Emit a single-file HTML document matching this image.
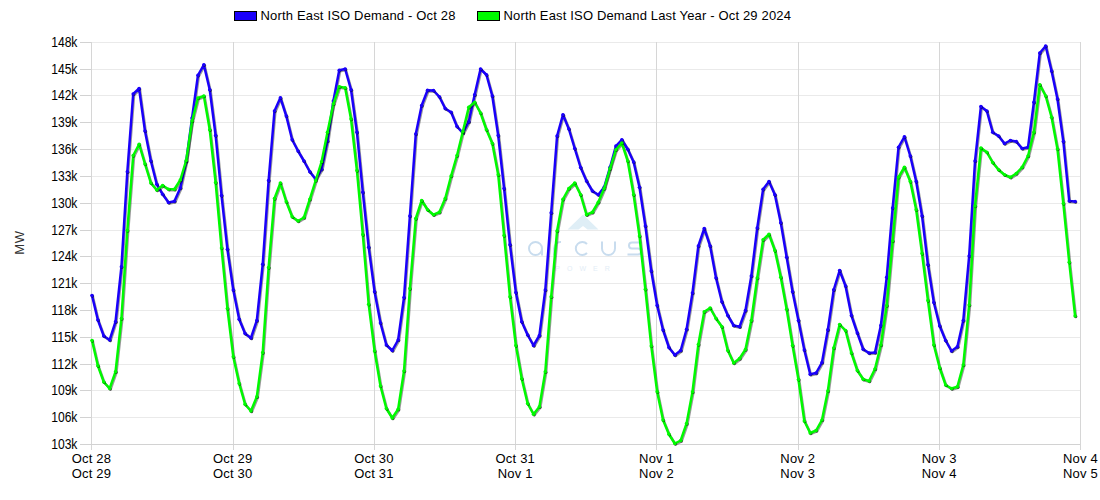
<!DOCTYPE html><html><head><meta charset="utf-8"><style>html,body{margin:0;padding:0;background:#fff;width:1100px;height:500px;overflow:hidden}svg{display:block}text{font-family:"Liberation Sans",sans-serif;fill:#000}</style></head><body>
<svg width="1100" height="500" viewBox="0 0 1100 500">
<path d="M91 42.5H1080 M91 69.5H1080 M91 95.5H1080 M91 122.5H1080 M91 149.5H1080 M91 176.5H1080 M91 203.5H1080 M91 230.5H1080 M91 256.5H1080 M91 283.5H1080 M91 310.5H1080 M91 337.5H1080 M91 364.5H1080 M91 390.5H1080 M91 417.5H1080" stroke="#eaeaea" stroke-width="1" fill="none" shape-rendering="crispEdges"/>
<path d="M91.5 42V449.5 M233.5 42V449.5 M374.5 42V449.5 M515.5 42V449.5 M656.5 42V449.5 M798.5 42V449.5 M939.5 42V449.5 M1080.5 42V449.5" stroke="#d6d6d6" stroke-width="1" fill="none" shape-rendering="crispEdges"/>
<path d="M80 42.5H91 M80 69.5H91 M80 95.5H91 M80 122.5H91 M80 149.5H91 M80 176.5H91 M80 203.5H91 M80 230.5H91 M80 256.5H91 M80 283.5H91 M80 310.5H91 M80 337.5H91 M80 364.5H91 M80 390.5H91 M80 417.5H91 M80 444.5H91 M91 444.5H1080" stroke="#d2d2d2" stroke-width="1" fill="none" shape-rendering="crispEdges"/>
<g opacity="1">
<path d="M583 214.5L598.5 229.5H587.5L583 226L578.5 229.5H567.5Z" fill="#dfeef6"/>
<g fill="none" stroke="#c8dcee" stroke-width="2">
<circle cx="535.5" cy="248.5" r="6.5"/><path d="M542 248.5V255.5"/>
<path d="M554 255.5V248.5A6.5 6.5 0 0 1 561 242"/>
<path d="M587 244A6.5 6.5 0 1 0 587 253"/>
<path d="M602 241.5V248.5A6.5 6.5 0 0 0 615 248.5V241.5"/>
<path d="M642 242.5H632A3 3 0 0 0 632 248.5H638A3 3 0 0 1 638 254.5H627.5"/>
</g>
<text x="586" y="271" text-anchor="middle" style="font-size:7px;letter-spacing:7px;fill:#e3edf6">POWER</text>
</g>
<polyline transform="translate(0.9 1.0)" points="92.00,295.50 97.89,320.00 103.77,336.00 109.66,340.00 115.55,321.75 121.43,266.75 127.32,171.75 133.21,94.00 139.10,88.50 144.98,131.00 150.87,161.00 156.76,184.25 162.64,194.25 168.53,202.50 174.42,201.25 180.30,188.00 186.19,161.50 192.08,118.00 197.96,75.25 203.85,64.75 209.74,89.75 215.62,135.50 221.51,195.50 227.40,249.25 233.29,290.00 239.17,319.25 245.06,333.50 250.95,338.00 256.83,320.50 262.72,264.25 268.61,180.50 274.49,111.00 280.38,97.75 286.27,116.00 292.15,139.75 298.04,151.00 303.93,161.00 309.82,171.75 315.70,179.25 321.59,169.25 327.48,141.00 333.36,101.00 339.25,70.25 345.14,69.00 351.02,89.75 356.91,132.25 362.80,192.25 368.68,247.25 374.57,291.75 380.46,323.00 386.35,345.00 392.23,350.50 398.12,340.00 404.01,297.50 409.89,216.00 415.78,134.00 421.67,105.50 427.55,90.25 433.44,90.50 439.33,96.75 445.21,108.50 451.10,112.25 456.99,126.50 462.88,133.00 468.76,121.75 474.65,94.75 480.54,69.00 486.42,74.75 492.31,96.00 498.20,135.50 504.08,188.50 509.97,244.75 515.86,292.50 521.74,321.75 527.63,335.00 533.52,345.50 539.40,335.50 545.29,290.00 551.18,212.75 557.07,136.00 562.95,114.75 568.84,129.00 574.73,148.50 580.61,167.50 586.50,181.00 592.39,191.00 598.27,194.75 604.16,187.25 610.05,167.25 615.93,146.00 621.82,139.75 627.71,149.25 633.60,162.00 639.48,187.25 645.37,226.00 651.26,271.00 657.14,305.50 663.03,330.00 668.92,347.50 674.80,355.00 680.69,350.50 686.58,329.25 692.46,293.00 698.35,246.00 704.24,228.50 710.12,246.00 716.01,278.00 721.90,301.75 727.79,315.50 733.67,325.50 739.56,326.75 745.45,310.50 751.33,276.00 757.22,228.00 763.11,189.25 768.99,181.50 774.88,194.75 780.77,222.75 786.65,257.25 792.54,291.75 798.43,320.50 804.32,350.00 810.20,374.25 816.09,373.00 821.98,362.50 827.86,329.75 833.75,289.75 839.64,270.50 845.52,286.00 851.41,315.50 857.30,333.00 863.18,349.25 869.07,353.00 874.96,352.50 880.85,325.50 886.73,277.25 892.62,208.00 898.51,147.25 904.39,136.75 910.28,156.00 916.17,181.50 922.05,216.00 927.94,264.75 933.83,302.50 939.71,326.00 945.60,340.50 951.49,351.00 957.38,346.75 963.26,320.50 969.15,256.00 975.04,161.00 980.92,106.50 986.81,111.00 992.70,132.25 998.58,136.00 1004.47,143.50 1010.36,140.50 1016.24,141.50 1022.13,148.50 1028.02,147.25 1033.90,102.25 1039.79,53.00 1045.68,46.00 1051.57,71.00 1057.45,99.00 1063.34,141.50 1069.23,201.00 1075.11,201.50" fill="none" stroke="#000" stroke-opacity="0.4" stroke-width="2.4" stroke-linejoin="round" stroke-linecap="round"/>
<polyline points="92.00,295.50 97.89,320.00 103.77,336.00 109.66,340.00 115.55,321.75 121.43,266.75 127.32,171.75 133.21,94.00 139.10,88.50 144.98,131.00 150.87,161.00 156.76,184.25 162.64,194.25 168.53,202.50 174.42,201.25 180.30,188.00 186.19,161.50 192.08,118.00 197.96,75.25 203.85,64.75 209.74,89.75 215.62,135.50 221.51,195.50 227.40,249.25 233.29,290.00 239.17,319.25 245.06,333.50 250.95,338.00 256.83,320.50 262.72,264.25 268.61,180.50 274.49,111.00 280.38,97.75 286.27,116.00 292.15,139.75 298.04,151.00 303.93,161.00 309.82,171.75 315.70,179.25 321.59,169.25 327.48,141.00 333.36,101.00 339.25,70.25 345.14,69.00 351.02,89.75 356.91,132.25 362.80,192.25 368.68,247.25 374.57,291.75 380.46,323.00 386.35,345.00 392.23,350.50 398.12,340.00 404.01,297.50 409.89,216.00 415.78,134.00 421.67,105.50 427.55,90.25 433.44,90.50 439.33,96.75 445.21,108.50 451.10,112.25 456.99,126.50 462.88,133.00 468.76,121.75 474.65,94.75 480.54,69.00 486.42,74.75 492.31,96.00 498.20,135.50 504.08,188.50 509.97,244.75 515.86,292.50 521.74,321.75 527.63,335.00 533.52,345.50 539.40,335.50 545.29,290.00 551.18,212.75 557.07,136.00 562.95,114.75 568.84,129.00 574.73,148.50 580.61,167.50 586.50,181.00 592.39,191.00 598.27,194.75 604.16,187.25 610.05,167.25 615.93,146.00 621.82,139.75 627.71,149.25 633.60,162.00 639.48,187.25 645.37,226.00 651.26,271.00 657.14,305.50 663.03,330.00 668.92,347.50 674.80,355.00 680.69,350.50 686.58,329.25 692.46,293.00 698.35,246.00 704.24,228.50 710.12,246.00 716.01,278.00 721.90,301.75 727.79,315.50 733.67,325.50 739.56,326.75 745.45,310.50 751.33,276.00 757.22,228.00 763.11,189.25 768.99,181.50 774.88,194.75 780.77,222.75 786.65,257.25 792.54,291.75 798.43,320.50 804.32,350.00 810.20,374.25 816.09,373.00 821.98,362.50 827.86,329.75 833.75,289.75 839.64,270.50 845.52,286.00 851.41,315.50 857.30,333.00 863.18,349.25 869.07,353.00 874.96,352.50 880.85,325.50 886.73,277.25 892.62,208.00 898.51,147.25 904.39,136.75 910.28,156.00 916.17,181.50 922.05,216.00 927.94,264.75 933.83,302.50 939.71,326.00 945.60,340.50 951.49,351.00 957.38,346.75 963.26,320.50 969.15,256.00 975.04,161.00 980.92,106.50 986.81,111.00 992.70,132.25 998.58,136.00 1004.47,143.50 1010.36,140.50 1016.24,141.50 1022.13,148.50 1028.02,147.25 1033.90,102.25 1039.79,53.00 1045.68,46.00 1051.57,71.00 1057.45,99.00 1063.34,141.50 1069.23,201.00 1075.11,201.50" fill="none" stroke="#1a00fa" stroke-width="2.5" stroke-linejoin="round" stroke-linecap="round"/>
<g fill="#000" opacity="0.6"><circle cx="92.60" cy="296.10" r="1.6"/><circle cx="98.49" cy="320.60" r="1.6"/><circle cx="104.37" cy="336.60" r="1.6"/><circle cx="110.26" cy="340.60" r="1.6"/><circle cx="116.15" cy="322.35" r="1.6"/><circle cx="122.03" cy="267.35" r="1.6"/><circle cx="127.92" cy="172.35" r="1.6"/><circle cx="133.81" cy="94.60" r="1.6"/><circle cx="139.70" cy="89.10" r="1.6"/><circle cx="145.58" cy="131.60" r="1.6"/><circle cx="151.47" cy="161.60" r="1.6"/><circle cx="157.36" cy="184.85" r="1.6"/><circle cx="163.24" cy="194.85" r="1.6"/><circle cx="169.13" cy="203.10" r="1.6"/><circle cx="175.02" cy="201.85" r="1.6"/><circle cx="180.90" cy="188.60" r="1.6"/><circle cx="186.79" cy="162.10" r="1.6"/><circle cx="192.68" cy="118.60" r="1.6"/><circle cx="198.56" cy="75.85" r="1.6"/><circle cx="204.45" cy="65.35" r="1.6"/><circle cx="210.34" cy="90.35" r="1.6"/><circle cx="216.22" cy="136.10" r="1.6"/><circle cx="222.11" cy="196.10" r="1.6"/><circle cx="228.00" cy="249.85" r="1.6"/><circle cx="233.89" cy="290.60" r="1.6"/><circle cx="239.77" cy="319.85" r="1.6"/><circle cx="245.66" cy="334.10" r="1.6"/><circle cx="251.55" cy="338.60" r="1.6"/><circle cx="257.43" cy="321.10" r="1.6"/><circle cx="263.32" cy="264.85" r="1.6"/><circle cx="269.21" cy="181.10" r="1.6"/><circle cx="275.09" cy="111.60" r="1.6"/><circle cx="280.98" cy="98.35" r="1.6"/><circle cx="286.87" cy="116.60" r="1.6"/><circle cx="292.75" cy="140.35" r="1.6"/><circle cx="298.64" cy="151.60" r="1.6"/><circle cx="304.53" cy="161.60" r="1.6"/><circle cx="310.42" cy="172.35" r="1.6"/><circle cx="316.30" cy="179.85" r="1.6"/><circle cx="322.19" cy="169.85" r="1.6"/><circle cx="328.08" cy="141.60" r="1.6"/><circle cx="333.96" cy="101.60" r="1.6"/><circle cx="339.85" cy="70.85" r="1.6"/><circle cx="345.74" cy="69.60" r="1.6"/><circle cx="351.62" cy="90.35" r="1.6"/><circle cx="357.51" cy="132.85" r="1.6"/><circle cx="363.40" cy="192.85" r="1.6"/><circle cx="369.28" cy="247.85" r="1.6"/><circle cx="375.17" cy="292.35" r="1.6"/><circle cx="381.06" cy="323.60" r="1.6"/><circle cx="386.95" cy="345.60" r="1.6"/><circle cx="392.83" cy="351.10" r="1.6"/><circle cx="398.72" cy="340.60" r="1.6"/><circle cx="404.61" cy="298.10" r="1.6"/><circle cx="410.49" cy="216.60" r="1.6"/><circle cx="416.38" cy="134.60" r="1.6"/><circle cx="422.27" cy="106.10" r="1.6"/><circle cx="428.15" cy="90.85" r="1.6"/><circle cx="434.04" cy="91.10" r="1.6"/><circle cx="439.93" cy="97.35" r="1.6"/><circle cx="445.81" cy="109.10" r="1.6"/><circle cx="451.70" cy="112.85" r="1.6"/><circle cx="457.59" cy="127.10" r="1.6"/><circle cx="463.48" cy="133.60" r="1.6"/><circle cx="469.36" cy="122.35" r="1.6"/><circle cx="475.25" cy="95.35" r="1.6"/><circle cx="481.14" cy="69.60" r="1.6"/><circle cx="487.02" cy="75.35" r="1.6"/><circle cx="492.91" cy="96.60" r="1.6"/><circle cx="498.80" cy="136.10" r="1.6"/><circle cx="504.68" cy="189.10" r="1.6"/><circle cx="510.57" cy="245.35" r="1.6"/><circle cx="516.46" cy="293.10" r="1.6"/><circle cx="522.34" cy="322.35" r="1.6"/><circle cx="528.23" cy="335.60" r="1.6"/><circle cx="534.12" cy="346.10" r="1.6"/><circle cx="540.00" cy="336.10" r="1.6"/><circle cx="545.89" cy="290.60" r="1.6"/><circle cx="551.78" cy="213.35" r="1.6"/><circle cx="557.67" cy="136.60" r="1.6"/><circle cx="563.55" cy="115.35" r="1.6"/><circle cx="569.44" cy="129.60" r="1.6"/><circle cx="575.33" cy="149.10" r="1.6"/><circle cx="581.21" cy="168.10" r="1.6"/><circle cx="587.10" cy="181.60" r="1.6"/><circle cx="592.99" cy="191.60" r="1.6"/><circle cx="598.87" cy="195.35" r="1.6"/><circle cx="604.76" cy="187.85" r="1.6"/><circle cx="610.65" cy="167.85" r="1.6"/><circle cx="616.53" cy="146.60" r="1.6"/><circle cx="622.42" cy="140.35" r="1.6"/><circle cx="628.31" cy="149.85" r="1.6"/><circle cx="634.20" cy="162.60" r="1.6"/><circle cx="640.08" cy="187.85" r="1.6"/><circle cx="645.97" cy="226.60" r="1.6"/><circle cx="651.86" cy="271.60" r="1.6"/><circle cx="657.74" cy="306.10" r="1.6"/><circle cx="663.63" cy="330.60" r="1.6"/><circle cx="669.52" cy="348.10" r="1.6"/><circle cx="675.40" cy="355.60" r="1.6"/><circle cx="681.29" cy="351.10" r="1.6"/><circle cx="687.18" cy="329.85" r="1.6"/><circle cx="693.06" cy="293.60" r="1.6"/><circle cx="698.95" cy="246.60" r="1.6"/><circle cx="704.84" cy="229.10" r="1.6"/><circle cx="710.73" cy="246.60" r="1.6"/><circle cx="716.61" cy="278.60" r="1.6"/><circle cx="722.50" cy="302.35" r="1.6"/><circle cx="728.39" cy="316.10" r="1.6"/><circle cx="734.27" cy="326.10" r="1.6"/><circle cx="740.16" cy="327.35" r="1.6"/><circle cx="746.05" cy="311.10" r="1.6"/><circle cx="751.93" cy="276.60" r="1.6"/><circle cx="757.82" cy="228.60" r="1.6"/><circle cx="763.71" cy="189.85" r="1.6"/><circle cx="769.59" cy="182.10" r="1.6"/><circle cx="775.48" cy="195.35" r="1.6"/><circle cx="781.37" cy="223.35" r="1.6"/><circle cx="787.25" cy="257.85" r="1.6"/><circle cx="793.14" cy="292.35" r="1.6"/><circle cx="799.03" cy="321.10" r="1.6"/><circle cx="804.92" cy="350.60" r="1.6"/><circle cx="810.80" cy="374.85" r="1.6"/><circle cx="816.69" cy="373.60" r="1.6"/><circle cx="822.58" cy="363.10" r="1.6"/><circle cx="828.46" cy="330.35" r="1.6"/><circle cx="834.35" cy="290.35" r="1.6"/><circle cx="840.24" cy="271.10" r="1.6"/><circle cx="846.12" cy="286.60" r="1.6"/><circle cx="852.01" cy="316.10" r="1.6"/><circle cx="857.90" cy="333.60" r="1.6"/><circle cx="863.78" cy="349.85" r="1.6"/><circle cx="869.67" cy="353.60" r="1.6"/><circle cx="875.56" cy="353.10" r="1.6"/><circle cx="881.45" cy="326.10" r="1.6"/><circle cx="887.33" cy="277.85" r="1.6"/><circle cx="893.22" cy="208.60" r="1.6"/><circle cx="899.11" cy="147.85" r="1.6"/><circle cx="904.99" cy="137.35" r="1.6"/><circle cx="910.88" cy="156.60" r="1.6"/><circle cx="916.77" cy="182.10" r="1.6"/><circle cx="922.65" cy="216.60" r="1.6"/><circle cx="928.54" cy="265.35" r="1.6"/><circle cx="934.43" cy="303.10" r="1.6"/><circle cx="940.31" cy="326.60" r="1.6"/><circle cx="946.20" cy="341.10" r="1.6"/><circle cx="952.09" cy="351.60" r="1.6"/><circle cx="957.98" cy="347.35" r="1.6"/><circle cx="963.86" cy="321.10" r="1.6"/><circle cx="969.75" cy="256.60" r="1.6"/><circle cx="975.64" cy="161.60" r="1.6"/><circle cx="981.52" cy="107.10" r="1.6"/><circle cx="987.41" cy="111.60" r="1.6"/><circle cx="993.30" cy="132.85" r="1.6"/><circle cx="999.18" cy="136.60" r="1.6"/><circle cx="1005.07" cy="144.10" r="1.6"/><circle cx="1010.96" cy="141.10" r="1.6"/><circle cx="1016.84" cy="142.10" r="1.6"/><circle cx="1022.73" cy="149.10" r="1.6"/><circle cx="1028.62" cy="147.85" r="1.6"/><circle cx="1034.50" cy="102.85" r="1.6"/><circle cx="1040.39" cy="53.60" r="1.6"/><circle cx="1046.28" cy="46.60" r="1.6"/><circle cx="1052.17" cy="71.60" r="1.6"/><circle cx="1058.05" cy="99.60" r="1.6"/><circle cx="1063.94" cy="142.10" r="1.6"/><circle cx="1069.83" cy="201.60" r="1.6"/><circle cx="1075.71" cy="202.10" r="1.6"/></g>
<g fill="#1a00fa"><circle cx="92.00" cy="295.50" r="1.8"/><circle cx="97.89" cy="320.00" r="1.8"/><circle cx="103.77" cy="336.00" r="1.8"/><circle cx="109.66" cy="340.00" r="1.8"/><circle cx="115.55" cy="321.75" r="1.8"/><circle cx="121.43" cy="266.75" r="1.8"/><circle cx="127.32" cy="171.75" r="1.8"/><circle cx="133.21" cy="94.00" r="1.8"/><circle cx="139.10" cy="88.50" r="1.8"/><circle cx="144.98" cy="131.00" r="1.8"/><circle cx="150.87" cy="161.00" r="1.8"/><circle cx="156.76" cy="184.25" r="1.8"/><circle cx="162.64" cy="194.25" r="1.8"/><circle cx="168.53" cy="202.50" r="1.8"/><circle cx="174.42" cy="201.25" r="1.8"/><circle cx="180.30" cy="188.00" r="1.8"/><circle cx="186.19" cy="161.50" r="1.8"/><circle cx="192.08" cy="118.00" r="1.8"/><circle cx="197.96" cy="75.25" r="1.8"/><circle cx="203.85" cy="64.75" r="1.8"/><circle cx="209.74" cy="89.75" r="1.8"/><circle cx="215.62" cy="135.50" r="1.8"/><circle cx="221.51" cy="195.50" r="1.8"/><circle cx="227.40" cy="249.25" r="1.8"/><circle cx="233.29" cy="290.00" r="1.8"/><circle cx="239.17" cy="319.25" r="1.8"/><circle cx="245.06" cy="333.50" r="1.8"/><circle cx="250.95" cy="338.00" r="1.8"/><circle cx="256.83" cy="320.50" r="1.8"/><circle cx="262.72" cy="264.25" r="1.8"/><circle cx="268.61" cy="180.50" r="1.8"/><circle cx="274.49" cy="111.00" r="1.8"/><circle cx="280.38" cy="97.75" r="1.8"/><circle cx="286.27" cy="116.00" r="1.8"/><circle cx="292.15" cy="139.75" r="1.8"/><circle cx="298.04" cy="151.00" r="1.8"/><circle cx="303.93" cy="161.00" r="1.8"/><circle cx="309.82" cy="171.75" r="1.8"/><circle cx="315.70" cy="179.25" r="1.8"/><circle cx="321.59" cy="169.25" r="1.8"/><circle cx="327.48" cy="141.00" r="1.8"/><circle cx="333.36" cy="101.00" r="1.8"/><circle cx="339.25" cy="70.25" r="1.8"/><circle cx="345.14" cy="69.00" r="1.8"/><circle cx="351.02" cy="89.75" r="1.8"/><circle cx="356.91" cy="132.25" r="1.8"/><circle cx="362.80" cy="192.25" r="1.8"/><circle cx="368.68" cy="247.25" r="1.8"/><circle cx="374.57" cy="291.75" r="1.8"/><circle cx="380.46" cy="323.00" r="1.8"/><circle cx="386.35" cy="345.00" r="1.8"/><circle cx="392.23" cy="350.50" r="1.8"/><circle cx="398.12" cy="340.00" r="1.8"/><circle cx="404.01" cy="297.50" r="1.8"/><circle cx="409.89" cy="216.00" r="1.8"/><circle cx="415.78" cy="134.00" r="1.8"/><circle cx="421.67" cy="105.50" r="1.8"/><circle cx="427.55" cy="90.25" r="1.8"/><circle cx="433.44" cy="90.50" r="1.8"/><circle cx="439.33" cy="96.75" r="1.8"/><circle cx="445.21" cy="108.50" r="1.8"/><circle cx="451.10" cy="112.25" r="1.8"/><circle cx="456.99" cy="126.50" r="1.8"/><circle cx="462.88" cy="133.00" r="1.8"/><circle cx="468.76" cy="121.75" r="1.8"/><circle cx="474.65" cy="94.75" r="1.8"/><circle cx="480.54" cy="69.00" r="1.8"/><circle cx="486.42" cy="74.75" r="1.8"/><circle cx="492.31" cy="96.00" r="1.8"/><circle cx="498.20" cy="135.50" r="1.8"/><circle cx="504.08" cy="188.50" r="1.8"/><circle cx="509.97" cy="244.75" r="1.8"/><circle cx="515.86" cy="292.50" r="1.8"/><circle cx="521.74" cy="321.75" r="1.8"/><circle cx="527.63" cy="335.00" r="1.8"/><circle cx="533.52" cy="345.50" r="1.8"/><circle cx="539.40" cy="335.50" r="1.8"/><circle cx="545.29" cy="290.00" r="1.8"/><circle cx="551.18" cy="212.75" r="1.8"/><circle cx="557.07" cy="136.00" r="1.8"/><circle cx="562.95" cy="114.75" r="1.8"/><circle cx="568.84" cy="129.00" r="1.8"/><circle cx="574.73" cy="148.50" r="1.8"/><circle cx="580.61" cy="167.50" r="1.8"/><circle cx="586.50" cy="181.00" r="1.8"/><circle cx="592.39" cy="191.00" r="1.8"/><circle cx="598.27" cy="194.75" r="1.8"/><circle cx="604.16" cy="187.25" r="1.8"/><circle cx="610.05" cy="167.25" r="1.8"/><circle cx="615.93" cy="146.00" r="1.8"/><circle cx="621.82" cy="139.75" r="1.8"/><circle cx="627.71" cy="149.25" r="1.8"/><circle cx="633.60" cy="162.00" r="1.8"/><circle cx="639.48" cy="187.25" r="1.8"/><circle cx="645.37" cy="226.00" r="1.8"/><circle cx="651.26" cy="271.00" r="1.8"/><circle cx="657.14" cy="305.50" r="1.8"/><circle cx="663.03" cy="330.00" r="1.8"/><circle cx="668.92" cy="347.50" r="1.8"/><circle cx="674.80" cy="355.00" r="1.8"/><circle cx="680.69" cy="350.50" r="1.8"/><circle cx="686.58" cy="329.25" r="1.8"/><circle cx="692.46" cy="293.00" r="1.8"/><circle cx="698.35" cy="246.00" r="1.8"/><circle cx="704.24" cy="228.50" r="1.8"/><circle cx="710.12" cy="246.00" r="1.8"/><circle cx="716.01" cy="278.00" r="1.8"/><circle cx="721.90" cy="301.75" r="1.8"/><circle cx="727.79" cy="315.50" r="1.8"/><circle cx="733.67" cy="325.50" r="1.8"/><circle cx="739.56" cy="326.75" r="1.8"/><circle cx="745.45" cy="310.50" r="1.8"/><circle cx="751.33" cy="276.00" r="1.8"/><circle cx="757.22" cy="228.00" r="1.8"/><circle cx="763.11" cy="189.25" r="1.8"/><circle cx="768.99" cy="181.50" r="1.8"/><circle cx="774.88" cy="194.75" r="1.8"/><circle cx="780.77" cy="222.75" r="1.8"/><circle cx="786.65" cy="257.25" r="1.8"/><circle cx="792.54" cy="291.75" r="1.8"/><circle cx="798.43" cy="320.50" r="1.8"/><circle cx="804.32" cy="350.00" r="1.8"/><circle cx="810.20" cy="374.25" r="1.8"/><circle cx="816.09" cy="373.00" r="1.8"/><circle cx="821.98" cy="362.50" r="1.8"/><circle cx="827.86" cy="329.75" r="1.8"/><circle cx="833.75" cy="289.75" r="1.8"/><circle cx="839.64" cy="270.50" r="1.8"/><circle cx="845.52" cy="286.00" r="1.8"/><circle cx="851.41" cy="315.50" r="1.8"/><circle cx="857.30" cy="333.00" r="1.8"/><circle cx="863.18" cy="349.25" r="1.8"/><circle cx="869.07" cy="353.00" r="1.8"/><circle cx="874.96" cy="352.50" r="1.8"/><circle cx="880.85" cy="325.50" r="1.8"/><circle cx="886.73" cy="277.25" r="1.8"/><circle cx="892.62" cy="208.00" r="1.8"/><circle cx="898.51" cy="147.25" r="1.8"/><circle cx="904.39" cy="136.75" r="1.8"/><circle cx="910.28" cy="156.00" r="1.8"/><circle cx="916.17" cy="181.50" r="1.8"/><circle cx="922.05" cy="216.00" r="1.8"/><circle cx="927.94" cy="264.75" r="1.8"/><circle cx="933.83" cy="302.50" r="1.8"/><circle cx="939.71" cy="326.00" r="1.8"/><circle cx="945.60" cy="340.50" r="1.8"/><circle cx="951.49" cy="351.00" r="1.8"/><circle cx="957.38" cy="346.75" r="1.8"/><circle cx="963.26" cy="320.50" r="1.8"/><circle cx="969.15" cy="256.00" r="1.8"/><circle cx="975.04" cy="161.00" r="1.8"/><circle cx="980.92" cy="106.50" r="1.8"/><circle cx="986.81" cy="111.00" r="1.8"/><circle cx="992.70" cy="132.25" r="1.8"/><circle cx="998.58" cy="136.00" r="1.8"/><circle cx="1004.47" cy="143.50" r="1.8"/><circle cx="1010.36" cy="140.50" r="1.8"/><circle cx="1016.24" cy="141.50" r="1.8"/><circle cx="1022.13" cy="148.50" r="1.8"/><circle cx="1028.02" cy="147.25" r="1.8"/><circle cx="1033.90" cy="102.25" r="1.8"/><circle cx="1039.79" cy="53.00" r="1.8"/><circle cx="1045.68" cy="46.00" r="1.8"/><circle cx="1051.57" cy="71.00" r="1.8"/><circle cx="1057.45" cy="99.00" r="1.8"/><circle cx="1063.34" cy="141.50" r="1.8"/><circle cx="1069.23" cy="201.00" r="1.8"/><circle cx="1075.11" cy="201.50" r="1.8"/></g>
<polyline transform="translate(0.9 1.0)" points="92.00,340.50 97.89,365.75 103.77,382.00 109.66,388.50 115.55,371.75 121.43,318.50 127.32,230.50 133.21,155.50 139.10,144.25 144.98,164.00 150.87,183.00 156.76,190.00 162.64,185.50 168.53,189.25 174.42,189.25 180.30,180.00 186.19,160.50 192.08,121.00 197.96,98.00 203.85,96.00 209.74,129.75 215.62,182.50 221.51,248.00 227.40,308.50 233.29,356.75 239.17,383.50 245.06,404.25 250.95,411.00 256.83,396.75 262.72,352.50 268.61,267.50 274.49,198.50 280.38,183.00 286.27,201.75 292.15,216.75 298.04,221.00 303.93,217.50 309.82,199.25 315.70,180.50 321.59,161.75 327.48,132.25 333.36,104.00 339.25,86.75 345.14,87.75 351.02,119.00 356.91,170.50 362.80,234.50 368.68,304.25 374.57,351.00 380.46,386.00 386.35,408.50 392.23,418.00 398.12,409.25 404.01,371.00 409.89,288.50 415.78,218.50 421.67,200.50 427.55,209.75 433.44,214.75 439.33,212.25 445.21,198.50 451.10,176.00 456.99,155.50 462.88,131.50 468.76,107.25 474.65,102.25 480.54,113.00 486.42,129.75 492.31,143.50 498.20,174.75 504.08,235.50 509.97,296.75 515.86,345.50 521.74,378.75 527.63,403.50 533.52,414.25 539.40,406.75 545.29,371.75 551.18,296.75 557.07,231.00 562.95,199.25 568.84,188.50 574.73,183.00 580.61,194.75 586.50,214.75 592.39,212.25 598.27,202.25 604.16,188.50 610.05,168.50 615.93,149.75 621.82,143.00 627.71,161.00 633.60,194.75 639.48,236.00 645.37,289.25 651.26,346.00 657.14,391.75 663.03,420.00 668.92,434.25 674.80,443.50 680.69,440.50 686.58,423.50 692.46,392.00 698.35,344.50 704.24,311.75 710.12,308.00 716.01,318.50 721.90,326.75 727.79,350.50 733.67,363.00 739.56,358.50 745.45,349.50 751.33,320.50 757.22,278.00 763.11,239.75 768.99,234.25 774.88,250.50 780.77,277.25 786.65,309.25 792.54,345.50 798.43,379.50 804.32,421.00 810.20,433.00 816.09,430.50 821.98,420.00 827.86,391.00 833.75,348.00 839.64,324.50 845.52,330.50 851.41,353.00 857.30,370.50 863.18,379.25 869.07,381.00 874.96,369.00 880.85,345.00 886.73,305.50 892.62,241.00 898.51,177.25 904.39,167.25 910.28,181.50 916.17,209.75 922.05,253.50 927.94,300.50 933.83,345.00 939.71,368.00 945.60,385.00 951.49,388.50 957.38,386.75 963.26,365.00 969.15,305.00 975.04,206.00 980.92,148.00 986.81,152.25 992.70,162.50 998.58,169.75 1004.47,174.75 1010.36,177.25 1016.24,173.50 1022.13,167.25 1028.02,156.00 1033.90,132.25 1039.79,84.75 1045.68,96.00 1051.57,117.25 1057.45,149.00 1063.34,203.50 1069.23,262.25 1075.11,316.00" fill="none" stroke="#000" stroke-opacity="0.4" stroke-width="2.4" stroke-linejoin="round" stroke-linecap="round"/>
<polyline points="92.00,340.50 97.89,365.75 103.77,382.00 109.66,388.50 115.55,371.75 121.43,318.50 127.32,230.50 133.21,155.50 139.10,144.25 144.98,164.00 150.87,183.00 156.76,190.00 162.64,185.50 168.53,189.25 174.42,189.25 180.30,180.00 186.19,160.50 192.08,121.00 197.96,98.00 203.85,96.00 209.74,129.75 215.62,182.50 221.51,248.00 227.40,308.50 233.29,356.75 239.17,383.50 245.06,404.25 250.95,411.00 256.83,396.75 262.72,352.50 268.61,267.50 274.49,198.50 280.38,183.00 286.27,201.75 292.15,216.75 298.04,221.00 303.93,217.50 309.82,199.25 315.70,180.50 321.59,161.75 327.48,132.25 333.36,104.00 339.25,86.75 345.14,87.75 351.02,119.00 356.91,170.50 362.80,234.50 368.68,304.25 374.57,351.00 380.46,386.00 386.35,408.50 392.23,418.00 398.12,409.25 404.01,371.00 409.89,288.50 415.78,218.50 421.67,200.50 427.55,209.75 433.44,214.75 439.33,212.25 445.21,198.50 451.10,176.00 456.99,155.50 462.88,131.50 468.76,107.25 474.65,102.25 480.54,113.00 486.42,129.75 492.31,143.50 498.20,174.75 504.08,235.50 509.97,296.75 515.86,345.50 521.74,378.75 527.63,403.50 533.52,414.25 539.40,406.75 545.29,371.75 551.18,296.75 557.07,231.00 562.95,199.25 568.84,188.50 574.73,183.00 580.61,194.75 586.50,214.75 592.39,212.25 598.27,202.25 604.16,188.50 610.05,168.50 615.93,149.75 621.82,143.00 627.71,161.00 633.60,194.75 639.48,236.00 645.37,289.25 651.26,346.00 657.14,391.75 663.03,420.00 668.92,434.25 674.80,443.50 680.69,440.50 686.58,423.50 692.46,392.00 698.35,344.50 704.24,311.75 710.12,308.00 716.01,318.50 721.90,326.75 727.79,350.50 733.67,363.00 739.56,358.50 745.45,349.50 751.33,320.50 757.22,278.00 763.11,239.75 768.99,234.25 774.88,250.50 780.77,277.25 786.65,309.25 792.54,345.50 798.43,379.50 804.32,421.00 810.20,433.00 816.09,430.50 821.98,420.00 827.86,391.00 833.75,348.00 839.64,324.50 845.52,330.50 851.41,353.00 857.30,370.50 863.18,379.25 869.07,381.00 874.96,369.00 880.85,345.00 886.73,305.50 892.62,241.00 898.51,177.25 904.39,167.25 910.28,181.50 916.17,209.75 922.05,253.50 927.94,300.50 933.83,345.00 939.71,368.00 945.60,385.00 951.49,388.50 957.38,386.75 963.26,365.00 969.15,305.00 975.04,206.00 980.92,148.00 986.81,152.25 992.70,162.50 998.58,169.75 1004.47,174.75 1010.36,177.25 1016.24,173.50 1022.13,167.25 1028.02,156.00 1033.90,132.25 1039.79,84.75 1045.68,96.00 1051.57,117.25 1057.45,149.00 1063.34,203.50 1069.23,262.25 1075.11,316.00" fill="none" stroke="#00fa00" stroke-width="2.5" stroke-linejoin="round" stroke-linecap="round"/>
<g fill="#000" opacity="0.6"><circle cx="92.60" cy="341.10" r="1.6"/><circle cx="98.49" cy="366.35" r="1.6"/><circle cx="104.37" cy="382.60" r="1.6"/><circle cx="110.26" cy="389.10" r="1.6"/><circle cx="116.15" cy="372.35" r="1.6"/><circle cx="122.03" cy="319.10" r="1.6"/><circle cx="127.92" cy="231.10" r="1.6"/><circle cx="133.81" cy="156.10" r="1.6"/><circle cx="139.70" cy="144.85" r="1.6"/><circle cx="145.58" cy="164.60" r="1.6"/><circle cx="151.47" cy="183.60" r="1.6"/><circle cx="157.36" cy="190.60" r="1.6"/><circle cx="163.24" cy="186.10" r="1.6"/><circle cx="169.13" cy="189.85" r="1.6"/><circle cx="175.02" cy="189.85" r="1.6"/><circle cx="180.90" cy="180.60" r="1.6"/><circle cx="186.79" cy="161.10" r="1.6"/><circle cx="192.68" cy="121.60" r="1.6"/><circle cx="198.56" cy="98.60" r="1.6"/><circle cx="204.45" cy="96.60" r="1.6"/><circle cx="210.34" cy="130.35" r="1.6"/><circle cx="216.22" cy="183.10" r="1.6"/><circle cx="222.11" cy="248.60" r="1.6"/><circle cx="228.00" cy="309.10" r="1.6"/><circle cx="233.89" cy="357.35" r="1.6"/><circle cx="239.77" cy="384.10" r="1.6"/><circle cx="245.66" cy="404.85" r="1.6"/><circle cx="251.55" cy="411.60" r="1.6"/><circle cx="257.43" cy="397.35" r="1.6"/><circle cx="263.32" cy="353.10" r="1.6"/><circle cx="269.21" cy="268.10" r="1.6"/><circle cx="275.09" cy="199.10" r="1.6"/><circle cx="280.98" cy="183.60" r="1.6"/><circle cx="286.87" cy="202.35" r="1.6"/><circle cx="292.75" cy="217.35" r="1.6"/><circle cx="298.64" cy="221.60" r="1.6"/><circle cx="304.53" cy="218.10" r="1.6"/><circle cx="310.42" cy="199.85" r="1.6"/><circle cx="316.30" cy="181.10" r="1.6"/><circle cx="322.19" cy="162.35" r="1.6"/><circle cx="328.08" cy="132.85" r="1.6"/><circle cx="333.96" cy="104.60" r="1.6"/><circle cx="339.85" cy="87.35" r="1.6"/><circle cx="345.74" cy="88.35" r="1.6"/><circle cx="351.62" cy="119.60" r="1.6"/><circle cx="357.51" cy="171.10" r="1.6"/><circle cx="363.40" cy="235.10" r="1.6"/><circle cx="369.28" cy="304.85" r="1.6"/><circle cx="375.17" cy="351.60" r="1.6"/><circle cx="381.06" cy="386.60" r="1.6"/><circle cx="386.95" cy="409.10" r="1.6"/><circle cx="392.83" cy="418.60" r="1.6"/><circle cx="398.72" cy="409.85" r="1.6"/><circle cx="404.61" cy="371.60" r="1.6"/><circle cx="410.49" cy="289.10" r="1.6"/><circle cx="416.38" cy="219.10" r="1.6"/><circle cx="422.27" cy="201.10" r="1.6"/><circle cx="428.15" cy="210.35" r="1.6"/><circle cx="434.04" cy="215.35" r="1.6"/><circle cx="439.93" cy="212.85" r="1.6"/><circle cx="445.81" cy="199.10" r="1.6"/><circle cx="451.70" cy="176.60" r="1.6"/><circle cx="457.59" cy="156.10" r="1.6"/><circle cx="463.48" cy="132.10" r="1.6"/><circle cx="469.36" cy="107.85" r="1.6"/><circle cx="475.25" cy="102.85" r="1.6"/><circle cx="481.14" cy="113.60" r="1.6"/><circle cx="487.02" cy="130.35" r="1.6"/><circle cx="492.91" cy="144.10" r="1.6"/><circle cx="498.80" cy="175.35" r="1.6"/><circle cx="504.68" cy="236.10" r="1.6"/><circle cx="510.57" cy="297.35" r="1.6"/><circle cx="516.46" cy="346.10" r="1.6"/><circle cx="522.34" cy="379.35" r="1.6"/><circle cx="528.23" cy="404.10" r="1.6"/><circle cx="534.12" cy="414.85" r="1.6"/><circle cx="540.00" cy="407.35" r="1.6"/><circle cx="545.89" cy="372.35" r="1.6"/><circle cx="551.78" cy="297.35" r="1.6"/><circle cx="557.67" cy="231.60" r="1.6"/><circle cx="563.55" cy="199.85" r="1.6"/><circle cx="569.44" cy="189.10" r="1.6"/><circle cx="575.33" cy="183.60" r="1.6"/><circle cx="581.21" cy="195.35" r="1.6"/><circle cx="587.10" cy="215.35" r="1.6"/><circle cx="592.99" cy="212.85" r="1.6"/><circle cx="598.87" cy="202.85" r="1.6"/><circle cx="604.76" cy="189.10" r="1.6"/><circle cx="610.65" cy="169.10" r="1.6"/><circle cx="616.53" cy="150.35" r="1.6"/><circle cx="622.42" cy="143.60" r="1.6"/><circle cx="628.31" cy="161.60" r="1.6"/><circle cx="634.20" cy="195.35" r="1.6"/><circle cx="640.08" cy="236.60" r="1.6"/><circle cx="645.97" cy="289.85" r="1.6"/><circle cx="651.86" cy="346.60" r="1.6"/><circle cx="657.74" cy="392.35" r="1.6"/><circle cx="663.63" cy="420.60" r="1.6"/><circle cx="669.52" cy="434.85" r="1.6"/><circle cx="675.40" cy="444.10" r="1.6"/><circle cx="681.29" cy="441.10" r="1.6"/><circle cx="687.18" cy="424.10" r="1.6"/><circle cx="693.06" cy="392.60" r="1.6"/><circle cx="698.95" cy="345.10" r="1.6"/><circle cx="704.84" cy="312.35" r="1.6"/><circle cx="710.73" cy="308.60" r="1.6"/><circle cx="716.61" cy="319.10" r="1.6"/><circle cx="722.50" cy="327.35" r="1.6"/><circle cx="728.39" cy="351.10" r="1.6"/><circle cx="734.27" cy="363.60" r="1.6"/><circle cx="740.16" cy="359.10" r="1.6"/><circle cx="746.05" cy="350.10" r="1.6"/><circle cx="751.93" cy="321.10" r="1.6"/><circle cx="757.82" cy="278.60" r="1.6"/><circle cx="763.71" cy="240.35" r="1.6"/><circle cx="769.59" cy="234.85" r="1.6"/><circle cx="775.48" cy="251.10" r="1.6"/><circle cx="781.37" cy="277.85" r="1.6"/><circle cx="787.25" cy="309.85" r="1.6"/><circle cx="793.14" cy="346.10" r="1.6"/><circle cx="799.03" cy="380.10" r="1.6"/><circle cx="804.92" cy="421.60" r="1.6"/><circle cx="810.80" cy="433.60" r="1.6"/><circle cx="816.69" cy="431.10" r="1.6"/><circle cx="822.58" cy="420.60" r="1.6"/><circle cx="828.46" cy="391.60" r="1.6"/><circle cx="834.35" cy="348.60" r="1.6"/><circle cx="840.24" cy="325.10" r="1.6"/><circle cx="846.12" cy="331.10" r="1.6"/><circle cx="852.01" cy="353.60" r="1.6"/><circle cx="857.90" cy="371.10" r="1.6"/><circle cx="863.78" cy="379.85" r="1.6"/><circle cx="869.67" cy="381.60" r="1.6"/><circle cx="875.56" cy="369.60" r="1.6"/><circle cx="881.45" cy="345.60" r="1.6"/><circle cx="887.33" cy="306.10" r="1.6"/><circle cx="893.22" cy="241.60" r="1.6"/><circle cx="899.11" cy="177.85" r="1.6"/><circle cx="904.99" cy="167.85" r="1.6"/><circle cx="910.88" cy="182.10" r="1.6"/><circle cx="916.77" cy="210.35" r="1.6"/><circle cx="922.65" cy="254.10" r="1.6"/><circle cx="928.54" cy="301.10" r="1.6"/><circle cx="934.43" cy="345.60" r="1.6"/><circle cx="940.31" cy="368.60" r="1.6"/><circle cx="946.20" cy="385.60" r="1.6"/><circle cx="952.09" cy="389.10" r="1.6"/><circle cx="957.98" cy="387.35" r="1.6"/><circle cx="963.86" cy="365.60" r="1.6"/><circle cx="969.75" cy="305.60" r="1.6"/><circle cx="975.64" cy="206.60" r="1.6"/><circle cx="981.52" cy="148.60" r="1.6"/><circle cx="987.41" cy="152.85" r="1.6"/><circle cx="993.30" cy="163.10" r="1.6"/><circle cx="999.18" cy="170.35" r="1.6"/><circle cx="1005.07" cy="175.35" r="1.6"/><circle cx="1010.96" cy="177.85" r="1.6"/><circle cx="1016.84" cy="174.10" r="1.6"/><circle cx="1022.73" cy="167.85" r="1.6"/><circle cx="1028.62" cy="156.60" r="1.6"/><circle cx="1034.50" cy="132.85" r="1.6"/><circle cx="1040.39" cy="85.35" r="1.6"/><circle cx="1046.28" cy="96.60" r="1.6"/><circle cx="1052.17" cy="117.85" r="1.6"/><circle cx="1058.05" cy="149.60" r="1.6"/><circle cx="1063.94" cy="204.10" r="1.6"/><circle cx="1069.83" cy="262.85" r="1.6"/><circle cx="1075.71" cy="316.60" r="1.6"/></g>
<g fill="#00fa00"><circle cx="92.00" cy="340.50" r="1.8"/><circle cx="97.89" cy="365.75" r="1.8"/><circle cx="103.77" cy="382.00" r="1.8"/><circle cx="109.66" cy="388.50" r="1.8"/><circle cx="115.55" cy="371.75" r="1.8"/><circle cx="121.43" cy="318.50" r="1.8"/><circle cx="127.32" cy="230.50" r="1.8"/><circle cx="133.21" cy="155.50" r="1.8"/><circle cx="139.10" cy="144.25" r="1.8"/><circle cx="144.98" cy="164.00" r="1.8"/><circle cx="150.87" cy="183.00" r="1.8"/><circle cx="156.76" cy="190.00" r="1.8"/><circle cx="162.64" cy="185.50" r="1.8"/><circle cx="168.53" cy="189.25" r="1.8"/><circle cx="174.42" cy="189.25" r="1.8"/><circle cx="180.30" cy="180.00" r="1.8"/><circle cx="186.19" cy="160.50" r="1.8"/><circle cx="192.08" cy="121.00" r="1.8"/><circle cx="197.96" cy="98.00" r="1.8"/><circle cx="203.85" cy="96.00" r="1.8"/><circle cx="209.74" cy="129.75" r="1.8"/><circle cx="215.62" cy="182.50" r="1.8"/><circle cx="221.51" cy="248.00" r="1.8"/><circle cx="227.40" cy="308.50" r="1.8"/><circle cx="233.29" cy="356.75" r="1.8"/><circle cx="239.17" cy="383.50" r="1.8"/><circle cx="245.06" cy="404.25" r="1.8"/><circle cx="250.95" cy="411.00" r="1.8"/><circle cx="256.83" cy="396.75" r="1.8"/><circle cx="262.72" cy="352.50" r="1.8"/><circle cx="268.61" cy="267.50" r="1.8"/><circle cx="274.49" cy="198.50" r="1.8"/><circle cx="280.38" cy="183.00" r="1.8"/><circle cx="286.27" cy="201.75" r="1.8"/><circle cx="292.15" cy="216.75" r="1.8"/><circle cx="298.04" cy="221.00" r="1.8"/><circle cx="303.93" cy="217.50" r="1.8"/><circle cx="309.82" cy="199.25" r="1.8"/><circle cx="315.70" cy="180.50" r="1.8"/><circle cx="321.59" cy="161.75" r="1.8"/><circle cx="327.48" cy="132.25" r="1.8"/><circle cx="333.36" cy="104.00" r="1.8"/><circle cx="339.25" cy="86.75" r="1.8"/><circle cx="345.14" cy="87.75" r="1.8"/><circle cx="351.02" cy="119.00" r="1.8"/><circle cx="356.91" cy="170.50" r="1.8"/><circle cx="362.80" cy="234.50" r="1.8"/><circle cx="368.68" cy="304.25" r="1.8"/><circle cx="374.57" cy="351.00" r="1.8"/><circle cx="380.46" cy="386.00" r="1.8"/><circle cx="386.35" cy="408.50" r="1.8"/><circle cx="392.23" cy="418.00" r="1.8"/><circle cx="398.12" cy="409.25" r="1.8"/><circle cx="404.01" cy="371.00" r="1.8"/><circle cx="409.89" cy="288.50" r="1.8"/><circle cx="415.78" cy="218.50" r="1.8"/><circle cx="421.67" cy="200.50" r="1.8"/><circle cx="427.55" cy="209.75" r="1.8"/><circle cx="433.44" cy="214.75" r="1.8"/><circle cx="439.33" cy="212.25" r="1.8"/><circle cx="445.21" cy="198.50" r="1.8"/><circle cx="451.10" cy="176.00" r="1.8"/><circle cx="456.99" cy="155.50" r="1.8"/><circle cx="462.88" cy="131.50" r="1.8"/><circle cx="468.76" cy="107.25" r="1.8"/><circle cx="474.65" cy="102.25" r="1.8"/><circle cx="480.54" cy="113.00" r="1.8"/><circle cx="486.42" cy="129.75" r="1.8"/><circle cx="492.31" cy="143.50" r="1.8"/><circle cx="498.20" cy="174.75" r="1.8"/><circle cx="504.08" cy="235.50" r="1.8"/><circle cx="509.97" cy="296.75" r="1.8"/><circle cx="515.86" cy="345.50" r="1.8"/><circle cx="521.74" cy="378.75" r="1.8"/><circle cx="527.63" cy="403.50" r="1.8"/><circle cx="533.52" cy="414.25" r="1.8"/><circle cx="539.40" cy="406.75" r="1.8"/><circle cx="545.29" cy="371.75" r="1.8"/><circle cx="551.18" cy="296.75" r="1.8"/><circle cx="557.07" cy="231.00" r="1.8"/><circle cx="562.95" cy="199.25" r="1.8"/><circle cx="568.84" cy="188.50" r="1.8"/><circle cx="574.73" cy="183.00" r="1.8"/><circle cx="580.61" cy="194.75" r="1.8"/><circle cx="586.50" cy="214.75" r="1.8"/><circle cx="592.39" cy="212.25" r="1.8"/><circle cx="598.27" cy="202.25" r="1.8"/><circle cx="604.16" cy="188.50" r="1.8"/><circle cx="610.05" cy="168.50" r="1.8"/><circle cx="615.93" cy="149.75" r="1.8"/><circle cx="621.82" cy="143.00" r="1.8"/><circle cx="627.71" cy="161.00" r="1.8"/><circle cx="633.60" cy="194.75" r="1.8"/><circle cx="639.48" cy="236.00" r="1.8"/><circle cx="645.37" cy="289.25" r="1.8"/><circle cx="651.26" cy="346.00" r="1.8"/><circle cx="657.14" cy="391.75" r="1.8"/><circle cx="663.03" cy="420.00" r="1.8"/><circle cx="668.92" cy="434.25" r="1.8"/><circle cx="674.80" cy="443.50" r="1.8"/><circle cx="680.69" cy="440.50" r="1.8"/><circle cx="686.58" cy="423.50" r="1.8"/><circle cx="692.46" cy="392.00" r="1.8"/><circle cx="698.35" cy="344.50" r="1.8"/><circle cx="704.24" cy="311.75" r="1.8"/><circle cx="710.12" cy="308.00" r="1.8"/><circle cx="716.01" cy="318.50" r="1.8"/><circle cx="721.90" cy="326.75" r="1.8"/><circle cx="727.79" cy="350.50" r="1.8"/><circle cx="733.67" cy="363.00" r="1.8"/><circle cx="739.56" cy="358.50" r="1.8"/><circle cx="745.45" cy="349.50" r="1.8"/><circle cx="751.33" cy="320.50" r="1.8"/><circle cx="757.22" cy="278.00" r="1.8"/><circle cx="763.11" cy="239.75" r="1.8"/><circle cx="768.99" cy="234.25" r="1.8"/><circle cx="774.88" cy="250.50" r="1.8"/><circle cx="780.77" cy="277.25" r="1.8"/><circle cx="786.65" cy="309.25" r="1.8"/><circle cx="792.54" cy="345.50" r="1.8"/><circle cx="798.43" cy="379.50" r="1.8"/><circle cx="804.32" cy="421.00" r="1.8"/><circle cx="810.20" cy="433.00" r="1.8"/><circle cx="816.09" cy="430.50" r="1.8"/><circle cx="821.98" cy="420.00" r="1.8"/><circle cx="827.86" cy="391.00" r="1.8"/><circle cx="833.75" cy="348.00" r="1.8"/><circle cx="839.64" cy="324.50" r="1.8"/><circle cx="845.52" cy="330.50" r="1.8"/><circle cx="851.41" cy="353.00" r="1.8"/><circle cx="857.30" cy="370.50" r="1.8"/><circle cx="863.18" cy="379.25" r="1.8"/><circle cx="869.07" cy="381.00" r="1.8"/><circle cx="874.96" cy="369.00" r="1.8"/><circle cx="880.85" cy="345.00" r="1.8"/><circle cx="886.73" cy="305.50" r="1.8"/><circle cx="892.62" cy="241.00" r="1.8"/><circle cx="898.51" cy="177.25" r="1.8"/><circle cx="904.39" cy="167.25" r="1.8"/><circle cx="910.28" cy="181.50" r="1.8"/><circle cx="916.17" cy="209.75" r="1.8"/><circle cx="922.05" cy="253.50" r="1.8"/><circle cx="927.94" cy="300.50" r="1.8"/><circle cx="933.83" cy="345.00" r="1.8"/><circle cx="939.71" cy="368.00" r="1.8"/><circle cx="945.60" cy="385.00" r="1.8"/><circle cx="951.49" cy="388.50" r="1.8"/><circle cx="957.38" cy="386.75" r="1.8"/><circle cx="963.26" cy="365.00" r="1.8"/><circle cx="969.15" cy="305.00" r="1.8"/><circle cx="975.04" cy="206.00" r="1.8"/><circle cx="980.92" cy="148.00" r="1.8"/><circle cx="986.81" cy="152.25" r="1.8"/><circle cx="992.70" cy="162.50" r="1.8"/><circle cx="998.58" cy="169.75" r="1.8"/><circle cx="1004.47" cy="174.75" r="1.8"/><circle cx="1010.36" cy="177.25" r="1.8"/><circle cx="1016.24" cy="173.50" r="1.8"/><circle cx="1022.13" cy="167.25" r="1.8"/><circle cx="1028.02" cy="156.00" r="1.8"/><circle cx="1033.90" cy="132.25" r="1.8"/><circle cx="1039.79" cy="84.75" r="1.8"/><circle cx="1045.68" cy="96.00" r="1.8"/><circle cx="1051.57" cy="117.25" r="1.8"/><circle cx="1057.45" cy="149.00" r="1.8"/><circle cx="1063.34" cy="203.50" r="1.8"/><circle cx="1069.23" cy="262.25" r="1.8"/><circle cx="1075.11" cy="316.00" r="1.8"/></g>
<text x="51.2" y="47" textLength="26.2" lengthAdjust="spacingAndGlyphs" style="font-size:13.8px">148k</text>
<text x="51.2" y="74" textLength="26.2" lengthAdjust="spacingAndGlyphs" style="font-size:13.8px">145k</text>
<text x="51.2" y="100" textLength="26.2" lengthAdjust="spacingAndGlyphs" style="font-size:13.8px">142k</text>
<text x="51.2" y="127" textLength="26.2" lengthAdjust="spacingAndGlyphs" style="font-size:13.8px">139k</text>
<text x="51.2" y="154" textLength="26.2" lengthAdjust="spacingAndGlyphs" style="font-size:13.8px">136k</text>
<text x="51.2" y="181" textLength="26.2" lengthAdjust="spacingAndGlyphs" style="font-size:13.8px">133k</text>
<text x="51.2" y="208" textLength="26.2" lengthAdjust="spacingAndGlyphs" style="font-size:13.8px">130k</text>
<text x="51.2" y="235" textLength="26.2" lengthAdjust="spacingAndGlyphs" style="font-size:13.8px">127k</text>
<text x="51.2" y="261" textLength="26.2" lengthAdjust="spacingAndGlyphs" style="font-size:13.8px">124k</text>
<text x="51.2" y="288" textLength="26.2" lengthAdjust="spacingAndGlyphs" style="font-size:13.8px">121k</text>
<text x="51.2" y="315" textLength="26.2" lengthAdjust="spacingAndGlyphs" style="font-size:13.8px">118k</text>
<text x="51.2" y="342" textLength="26.2" lengthAdjust="spacingAndGlyphs" style="font-size:13.8px">115k</text>
<text x="51.2" y="369" textLength="26.2" lengthAdjust="spacingAndGlyphs" style="font-size:13.8px">112k</text>
<text x="51.2" y="395" textLength="26.2" lengthAdjust="spacingAndGlyphs" style="font-size:13.8px">109k</text>
<text x="51.2" y="422" textLength="26.2" lengthAdjust="spacingAndGlyphs" style="font-size:13.8px">106k</text>
<text x="51.2" y="449" textLength="26.2" lengthAdjust="spacingAndGlyphs" style="font-size:13.8px">103k</text>
<text x="91.40" y="463" text-anchor="middle" style="font-size:13px;letter-spacing:0.2px">Oct 28</text>
<text x="91.40" y="478" text-anchor="middle" style="font-size:13px;letter-spacing:0.2px">Oct 29</text>
<text x="232.69" y="463" text-anchor="middle" style="font-size:13px;letter-spacing:0.2px">Oct 29</text>
<text x="232.69" y="478" text-anchor="middle" style="font-size:13px;letter-spacing:0.2px">Oct 30</text>
<text x="373.97" y="463" text-anchor="middle" style="font-size:13px;letter-spacing:0.2px">Oct 30</text>
<text x="373.97" y="478" text-anchor="middle" style="font-size:13px;letter-spacing:0.2px">Oct 31</text>
<text x="515.26" y="463" text-anchor="middle" style="font-size:13px;letter-spacing:0.2px">Oct 31</text>
<text x="515.26" y="478" text-anchor="middle" style="font-size:13px;letter-spacing:0.2px">Nov 1</text>
<text x="656.54" y="463" text-anchor="middle" style="font-size:13px;letter-spacing:0.2px">Nov 1</text>
<text x="656.54" y="478" text-anchor="middle" style="font-size:13px;letter-spacing:0.2px">Nov 2</text>
<text x="797.83" y="463" text-anchor="middle" style="font-size:13px;letter-spacing:0.2px">Nov 2</text>
<text x="797.83" y="478" text-anchor="middle" style="font-size:13px;letter-spacing:0.2px">Nov 3</text>
<text x="939.11" y="463" text-anchor="middle" style="font-size:13px;letter-spacing:0.2px">Nov 3</text>
<text x="939.11" y="478" text-anchor="middle" style="font-size:13px;letter-spacing:0.2px">Nov 4</text>
<text x="1080.40" y="463" text-anchor="middle" style="font-size:13px;letter-spacing:0.2px">Nov 4</text>
<text x="1080.40" y="478" text-anchor="middle" style="font-size:13px;letter-spacing:0.2px">Nov 5</text>
<text transform="translate(23.5 242.5) rotate(-90)" text-anchor="middle" style="font-size:13px;letter-spacing:0.8px;fill:#333">MW</text>
<rect x="234.5" y="11.5" width="22" height="9" fill="#1a00fa" stroke="#000" stroke-width="1"/>
<text x="260.5" y="20" style="font-size:13px;letter-spacing:0.17px">North East ISO Demand - Oct 28</text>
<rect x="477.5" y="11.5" width="22" height="9" fill="#00fa00" stroke="#000" stroke-width="1"/>
<text x="503.5" y="20" style="font-size:13px;letter-spacing:0.16px">North East ISO Demand Last Year - Oct 29 2024</text>
</svg></body></html>
